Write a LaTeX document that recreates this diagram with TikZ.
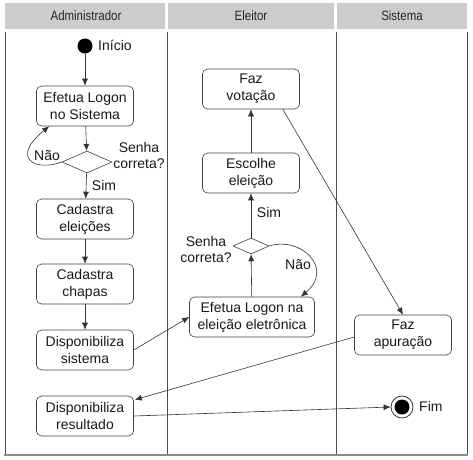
\documentclass[tikz,border=0pt]{standalone}
\usepackage{fontspec}
\setmainfont{Liberation Sans}
\usetikzlibrary{arrows.meta,shapes.geometric,calc}
\begin{document}
\begin{tikzpicture}[x=1pt,y=-1pt,
  act/.style={draw=black!75, line width=0.6pt, rounded corners=5pt, minimum width=97pt, minimum height=40pt, align=center, font=\fontsize{14}{17}\selectfont, inner sep=2pt, text=black!90},
  dec/.style={draw=black!75, line width=0.6pt, diamond, inner sep=0pt},
  arr/.style={-{Latex[length=7pt,width=6pt]}, draw=black!80, line width=0.6pt},
  lbl/.style={font=\fontsize{14}{16}\selectfont, align=center, text=black!90, inner sep=1pt},
  hdrtext/.style={font=\fontsize{13.5}{15}\selectfont, text=black!85},
  lane/.style={draw=black!70, line width=0.8pt}
]
\useasboundingbox (0,0) rectangle (473,459);
% headers
\fill[black!20] (5,3) rectangle (165,29);
\fill[black!20] (168,3) rectangle (334,29);
\fill[black!20] (337,3) rectangle (467,29);
\node[hdrtext] (h1) at (86,16) {\scalebox{0.85}[1]{Administrador}};
\node[hdrtext] (h2) at (251,16) {\scalebox{0.85}[1]{Eleitor}};
\node[hdrtext] (h3) at (402,16) {\scalebox{0.85}[1]{Sistema}};
% lanes
\draw[lane] (5,32) -- (5,455);
\draw[lane] (167,32) -- (167,455);
\draw[lane] (336,32) -- (336,455);
\draw[lane] (467,32) -- (467,455);
\draw[draw=black!45, line width=2.5pt] (4,455) -- (468,455);

% Administrador
\node[circle, fill=black, minimum size=15pt, inner sep=0pt] (ini) at (85,46) {};
\node[lbl, anchor=west] (inil) at (97,45) {Início};
\node[act] (b1) at (85,106) {Efetua Logon\\no Sistema};
\node[dec, minimum width=50pt, minimum height=22pt] (d1) at (87,162) {};
\node[lbl] (d1l) at (139,155) {Senha\\correta?};
\node[lbl] (no1) at (47,156) {Não};
\node[lbl] (sim1) at (104,185) {Sim};
\node[act] (b2) at (85,219) {Cadastra\\eleições};
\node[act] (b3) at (85,284) {Cadastra\\chapas};
\node[act] (b4) at (85,350) {Disponibiliza\\sistema};
\node[act] (b5) at (85,416) {Disponibiliza\\resultado};

% Eleitor
\node[act] (e1) at (251,89) {Faz\\votação};
\node[act] (e2) at (251,173) {Escolhe\\eleição};
\node[dec, minimum width=36pt, minimum height=16pt] (d2) at (251,246) {};
\node[lbl] (d2l) at (206,249) {Senha\\correta?};
\node[lbl] (sim2) at (269,212) {Sim};
\node[lbl] (no2) at (298,265) {Não};
\node[act, minimum width=125pt] (e3) at (252,317) {Efetua Logon na\\eleição eletrônica};

% Sistema
\node[act] (s1) at (403,335) {Faz\\apuração};
\node[circle, draw=black!80, line width=0.8pt, fill=white, minimum size=22pt, inner sep=0pt] (fim) at (402,407) {};
\node[circle, fill=black, minimum size=15pt, inner sep=0pt] (fimin) at (fim.center) {};
\node[lbl, anchor=west] (fiml) at (418,406) {Fim};

% connectors
\draw[arr] (ini) -- (b1);
\draw[arr] (b1) -- (d1);
\draw[arr] (d1.west) .. controls (35,172) and (10,158) .. ($(b1.south west)+(13,0)$);
\draw[arr] (d1) -- (b2);
\draw[arr] (b2) -- (b3);
\draw[arr] (b3) -- (b4);
\draw[arr] (b4.east) -- (e3.west);
\draw[arr] (e3) -- (d2);
\draw[arr] (d2) -- (e2);
\draw[arr] (d2.east) .. controls (300,236) and (335,268) .. ($(e3.north east)+(-14,0)$);
\draw[arr] (e2) -- (e1);
\draw[arr] ($(e1.south east)+(-17,0)$) -- (s1.north);
\draw[arr] ($(s1.west)+(0,2)$) -- ($(b5.north east)+(1,4)$);
\draw[arr] (b5.east) -- (fim.west);
\end{tikzpicture}
\end{document}
